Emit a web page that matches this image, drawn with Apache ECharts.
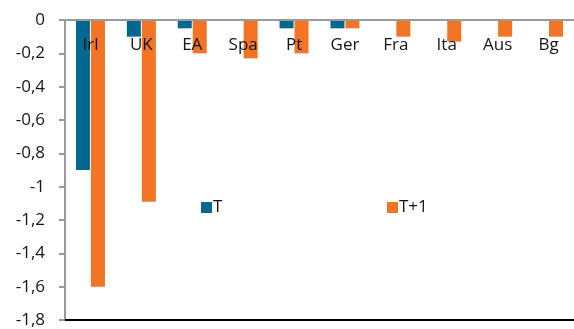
<!DOCTYPE html>
<html>
<head>
<meta charset="utf-8">
<script src="https://cdn.jsdelivr.net/npm/echarts@6/dist/echarts.min.js"></script>
<style>
  html, body { margin: 0; padding: 0; background: #fff; }
  #chart { width: 574px; height: 329px; }
</style>
</head>
<body>
<div id="chart"></div>
<script>
// Countries along the top axis
const categories = ['Irl', 'UK', 'EA', 'Spa', 'Pt', 'Ger', 'Fra', 'Ita', 'Aus', 'Bg'];
// Impact in year T and year T+1
const seriesT = [-0.9, -0.1, -0.05, 0, -0.05, -0.05, 0, 0, 0, 0];
const seriesT1 = [-1.6, -1.09, -0.2, -0.23, -0.2, -0.05, -0.1, -0.13, -0.1, -0.1];
const seriesNames = ['T', 'T+1'];
const colors = ['#02688f', '#f27424'];

const FONT = 'Open Sans';
const FS = 17;
const TEXT = '#161616';
const chart = echarts.init(document.getElementById('chart'));

const legendStyle = {
  itemWidth: 11, itemHeight: 11, itemGap: 0, icon: 'rect',
  textStyle: { fontFamily: FONT, fontSize: FS, color: TEXT, padding: [0, 0, 0, -4] }
};

chart.setOption({
  animation: false,
  backgroundColor: '#ffffff',
  textStyle: { fontFamily: FONT },
  grid: { left: 65, right: 0, top: 20, bottom: 9 },
  legend: [
    Object.assign({ data: [seriesNames[0]], left: 196, top: 194 }, legendStyle),
    Object.assign({ data: [seriesNames[1]], left: 382, top: 194 }, legendStyle)
  ],
  xAxis: [
    {
      type: 'category',
      data: categories,
      position: 'top',
      z: 10,
      axisLine: { lineStyle: { color: '#9a9a9a', width: 2 } },
      axisTick: { inside: true, length: 6, lineStyle: { color: '#9a9a9a', width: 2 } },
      axisLabel: { inside: true, margin: 17, fontFamily: FONT, fontSize: FS, color: TEXT },
      splitLine: { show: false }
    },
    {
      type: 'category',
      data: categories,
      position: 'bottom',
      axisLine: { lineStyle: { color: '#000', width: 2 } },
      axisTick: { show: false },
      axisLabel: { show: false },
      splitLine: { show: false }
    }
  ],
  yAxis: {
    type: 'value',
    min: -1.8,
    max: 0,
    interval: 0.2,
    axisLine: { show: true, lineStyle: { color: '#9a9a9a', width: 2 } },
    axisTick: { show: true, length: 6, lineStyle: { color: '#9a9a9a', width: 2 } },
    splitLine: { show: false },
    axisLabel: {
      margin: 20,
      fontFamily: FONT,
      fontSize: FS,
      color: TEXT,
      formatter: v => String(+v.toFixed(1)).replace('.', ',')
    }
  },
  series: [
    {
      name: seriesNames[0], type: 'bar', data: seriesT,
      barWidth: 14, barGap: '7%',
      itemStyle: { color: colors[0] }
    },
    {
      name: seriesNames[1], type: 'bar', data: seriesT1,
      barWidth: 14, barGap: '7%',
      itemStyle: { color: colors[1] }
    }
  ]
});
</script>
</body>
</html>
